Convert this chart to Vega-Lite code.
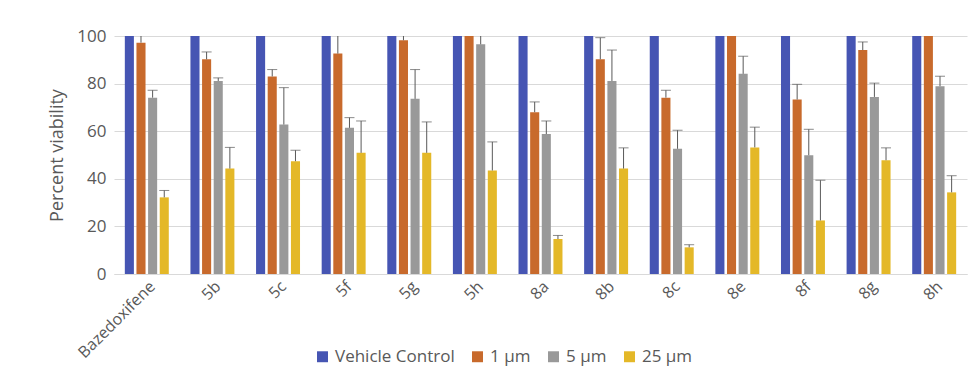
{
  "$schema": "https://vega.github.io/schema/vega-lite/v6.json",
  "autosize": {"type": "none"},
  "width": 853,
  "height": 238,
  "padding": {"left": 114, "top": 36, "right": 9, "bottom": 110},
  "background": "white",
  "config": {
    "font": "Open Sans",
    "view": {"stroke": null},
    "axis": {"labelColor": "#595959", "titleColor": "#595959", "labelFont": "Open Sans", "titleFont": "Open Sans"}
  },
  "data": {
    "values": [
      {"compound": "Bazedoxifene", "dose": "Vehicle Control", "value": 100},
      {"compound": "Bazedoxifene", "dose": "1 μm", "value": 97.2, "err": 101},
      {"compound": "Bazedoxifene", "dose": "5 μm", "value": 74.1, "err": 77.2},
      {"compound": "Bazedoxifene", "dose": "25 μm", "value": 32.2, "err": 35.1},
      {"compound": "5b", "dose": "Vehicle Control", "value": 100},
      {"compound": "5b", "dose": "1 μm", "value": 90.2, "err": 93.3},
      {"compound": "5b", "dose": "5 μm", "value": 81.1, "err": 82.4},
      {"compound": "5b", "dose": "25 μm", "value": 44.3, "err": 53.2},
      {"compound": "5c", "dose": "Vehicle Control", "value": 100},
      {"compound": "5c", "dose": "1 μm", "value": 83.0, "err": 85.9},
      {"compound": "5c", "dose": "5 μm", "value": 62.8, "err": 78.3},
      {"compound": "5c", "dose": "25 μm", "value": 47.4, "err": 52.0},
      {"compound": "5f", "dose": "Vehicle Control", "value": 100},
      {"compound": "5f", "dose": "1 μm", "value": 92.6, "err": 104},
      {"compound": "5f", "dose": "5 μm", "value": 61.4, "err": 65.7},
      {"compound": "5f", "dose": "25 μm", "value": 50.9, "err": 64.3},
      {"compound": "5g", "dose": "Vehicle Control", "value": 100},
      {"compound": "5g", "dose": "1 μm", "value": 98.2, "err": 103},
      {"compound": "5g", "dose": "5 μm", "value": 73.6, "err": 85.9},
      {"compound": "5g", "dose": "25 μm", "value": 50.9, "err": 63.9},
      {"compound": "5h", "dose": "Vehicle Control", "value": 100},
      {"compound": "5h", "dose": "1 μm", "value": 100, "err": 104},
      {"compound": "5h", "dose": "5 μm", "value": 96.5, "err": 102},
      {"compound": "5h", "dose": "25 μm", "value": 43.5, "err": 55.5},
      {"compound": "8a", "dose": "Vehicle Control", "value": 100},
      {"compound": "8a", "dose": "1 μm", "value": 68.0, "err": 72.3},
      {"compound": "8a", "dose": "5 μm", "value": 58.8, "err": 64.3},
      {"compound": "8a", "dose": "25 μm", "value": 14.7, "err": 16.2},
      {"compound": "8b", "dose": "Vehicle Control", "value": 100},
      {"compound": "8b", "dose": "1 μm", "value": 90.2, "err": 99.3},
      {"compound": "8b", "dose": "5 μm", "value": 81.1, "err": 94.1},
      {"compound": "8b", "dose": "25 μm", "value": 44.3, "err": 53.0},
      {"compound": "8c", "dose": "Vehicle Control", "value": 100},
      {"compound": "8c", "dose": "1 μm", "value": 74.1, "err": 77.2},
      {"compound": "8c", "dose": "5 μm", "value": 52.6, "err": 60.4},
      {"compound": "8c", "dose": "25 μm", "value": 11.2, "err": 12.3},
      {"compound": "8e", "dose": "Vehicle Control", "value": 100},
      {"compound": "8e", "dose": "1 μm", "value": 100},
      {"compound": "8e", "dose": "5 μm", "value": 84.1, "err": 91.5},
      {"compound": "8e", "dose": "25 μm", "value": 53.2, "err": 61.7},
      {"compound": "8f", "dose": "Vehicle Control", "value": 100},
      {"compound": "8f", "dose": "1 μm", "value": 73.3, "err": 79.7},
      {"compound": "8f", "dose": "5 μm", "value": 49.9, "err": 60.8},
      {"compound": "8f", "dose": "25 μm", "value": 22.5, "err": 39.4},
      {"compound": "8g", "dose": "Vehicle Control", "value": 100},
      {"compound": "8g", "dose": "1 μm", "value": 94.1, "err": 97.5},
      {"compound": "8g", "dose": "5 μm", "value": 74.4, "err": 80.2},
      {"compound": "8g", "dose": "25 μm", "value": 47.8, "err": 53.0},
      {"compound": "8h", "dose": "Vehicle Control", "value": 100},
      {"compound": "8h", "dose": "1 μm", "value": 100},
      {"compound": "8h", "dose": "5 μm", "value": 78.9, "err": 83.1},
      {"compound": "8h", "dose": "25 μm", "value": 34.3, "err": 41.3}
    ]
  },
  "encoding": {
    "x": {
      "field": "compound", "type": "nominal", "sort": null,
      "scale": {"paddingInner": 0.33, "paddingOuter": 0.165},
      "axis": {"title": null, "labelAngle": -45, "labelFontSize": 16, "labelPadding": 4, "domainColor": "#d9d9d9", "ticks": false}
    },
    "xOffset": {
      "field": "dose", "type": "nominal",
      "sort": ["Vehicle Control", "1 μm", "5 μm", "25 μm"],
      "scale": {"paddingInner": 0.22}
    }
  },
  "layer": [
    {
      "mark": {"type": "bar", "clip": true},
      "encoding": {
        "y": {
          "field": "value", "type": "quantitative",
          "scale": {"domain": [0, 100]},
          "axis": {"title": "Percent viability", "titleFontSize": 18, "titleFontWeight": "normal", "titlePadding": 10, "labelFontSize": 17, "labelPadding": 8, "values": [0, 20, 40, 60, 80, 100], "domain": false, "ticks": false, "gridColor": "#d9d9d9"}
        },
        "color": {
          "field": "dose", "type": "nominal",
          "sort": ["Vehicle Control", "1 μm", "5 μm", "25 μm"],
          "scale": {"domain": ["Vehicle Control", "1 μm", "5 μm", "25 μm"], "range": ["#4655B3", "#C86A2C", "#999999", "#E4B828"]},
          "legend": {"title": null, "orient": "none", "legendX": 200, "legendY": 312, "direction": "horizontal", "symbolType": "square", "symbolSize": 120, "symbolStrokeWidth": 0, "labelFontSize": 17, "labelColor": "#595959", "columnPadding": 14, "labelOffset": 4}
        }
      }
    },
    {
      "transform": [{"filter": "datum.err != null"}],
      "mark": {"type": "rule", "clip": true, "color": "#595959", "strokeWidth": 1},
      "encoding": {
        "y": {"field": "value", "type": "quantitative"},
        "y2": {"field": "err"}
      }
    },
    {
      "transform": [{"filter": "datum.err != null"}],
      "mark": {"type": "tick", "clip": true, "color": "#595959", "orient": "horizontal", "size": 10, "thickness": 1},
      "encoding": {
        "y": {"field": "err", "type": "quantitative"}
      }
    }
  ]
}
